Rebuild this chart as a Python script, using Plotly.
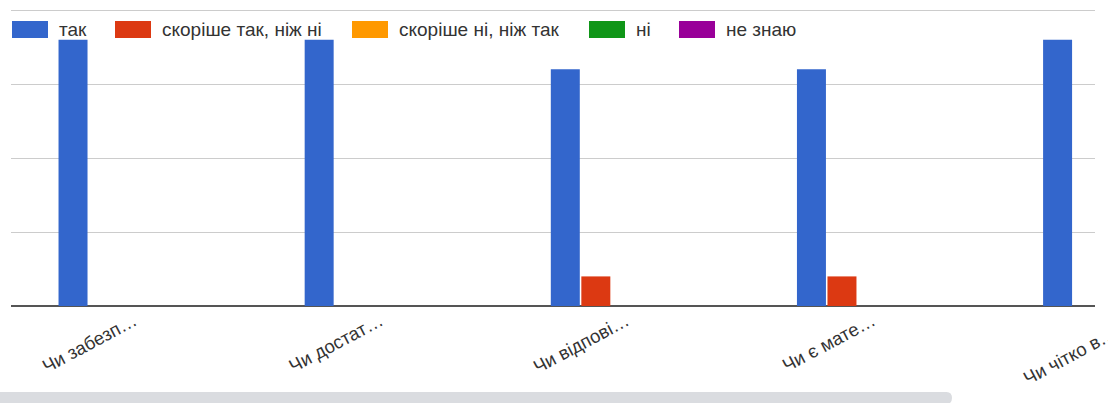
import plotly.graph_objects as go

# ---- data ----
categories = ["Чи забезп…", "Чи достат…", "Чи відпові…", "Чи є мате…", "Чи чітко в…"]
series_names = ["так", "скоріше так, ніж ні", "скоріше ні, ніж так", "ні", "не знаю"]
tak = [9, 9, 8, 8, 9]
skorishe_tak = [0, 0, 1, 1, 0]
skorishe_ni = [0, 0, 0, 0, 0]
ni = [0, 0, 0, 0, 0]
ne_znayu = [0, 0, 0, 0, 0]
y_ticks = [0, 2.5, 5, 7.5, 10]

# ---- style ----
colors = ["#3366cc", "#dc3912", "#ff9900", "#109618", "#990099"]
W, H = 1108, 403
ML, MR, MT, MB = 11, 13, 6, 97
plot_w = W - ML - MR
plot_h = H - MT - MB
x_range = [-0.5, 3.904]
y_range = [0, 10.14]
legend_x = [12, 115, 352, 589, 679]   # swatch left edges (px)
text_color = "#333333"
font_family = "Liberation Sans, Arial, sans-serif"


def px_x(px):
    return (px - ML) / plot_w


def px_y(py):
    return (H - MB - py) / plot_h


values = [tak, skorishe_tak, skorishe_ni, ni, ne_znayu]

fig = go.Figure()
for name, vals, col in zip(series_names, values, colors):
    fig.add_trace(go.Bar(x=categories, y=vals, name=name, marker_color=col,
                         marker_line_width=0, showlegend=False))

shapes = []
annotations = []
# custom legend (wide swatches like the original)
for name, col, lx in zip(series_names, colors, legend_x):
    shapes.append(dict(type="rect", xref="paper", yref="paper",
                       x0=px_x(lx), x1=px_x(lx + 36), y0=px_y(38), y1=px_y(21),
                       fillcolor=col, line=dict(width=0), layer="above"))
    annotations.append(dict(xref="paper", yref="paper", x=px_x(lx + 45), y=px_y(30),
                            text=name, showarrow=False, xanchor="left", yanchor="middle",
                            font=dict(size=19, color=text_color, family=font_family)))

# label for the last (partly scrolled-out) category
last_idx = len(categories) - 1
annotations.append(dict(xref="paper", yref="paper",
                        x=(last_idx - x_range[0]) / (x_range[1] - x_range[0]), y=0,
                        yshift=-14, xshift=4,
                        text=categories[last_idx], showarrow=False, textangle=-28,
                        xanchor="right", yanchor="top",
                        font=dict(size=18.5, color=text_color, family=font_family)))

# horizontal scrollbar of the original container
x0s, x1s = px_x(0), px_x(952)
y0s, y1s = px_y(392), px_y(404)
rx = px_x(952) - px_x(946.5)
shapes.append(dict(type="path", xref="paper", yref="paper",
                   path=(f"M {x0s},{y0s} L {x1s - rx},{y0s} Q {x1s},{y0s} {x1s},{(y0s + y1s) / 2} "
                         f"Q {x1s},{y1s} {x1s - rx},{y1s} L {x0s},{y1s} Z"),
                   fillcolor="#dadce0", line=dict(width=0)))

fig.update_layout(
    width=W, height=H,
    margin=dict(l=ML, r=MR, t=MT, b=MB, pad=0),
    paper_bgcolor="white", plot_bgcolor="white",
    barmode="group", bargap=0.38, bargroupgap=0.05,
    font=dict(family=font_family, color=text_color),
    shapes=shapes, annotations=annotations,
    showlegend=False,
)
fig.update_xaxes(range=x_range, tickangle=-28, ticks="", showgrid=False,
                 tickfont=dict(size=18.5, color=text_color, family=font_family),
                 showline=False, zeroline=False)
fig.update_yaxes(range=y_range, tickvals=y_ticks, showticklabels=False,
                 gridcolor="#cccccc", gridwidth=1,
                 zeroline=True, zerolinecolor="#555555", zerolinewidth=2,
                 showline=False)

fig.write_html("out.html", config={"displayModeBar": False},
               post_script="document.body.style.margin='0';document.body.style.overflow='hidden';")
